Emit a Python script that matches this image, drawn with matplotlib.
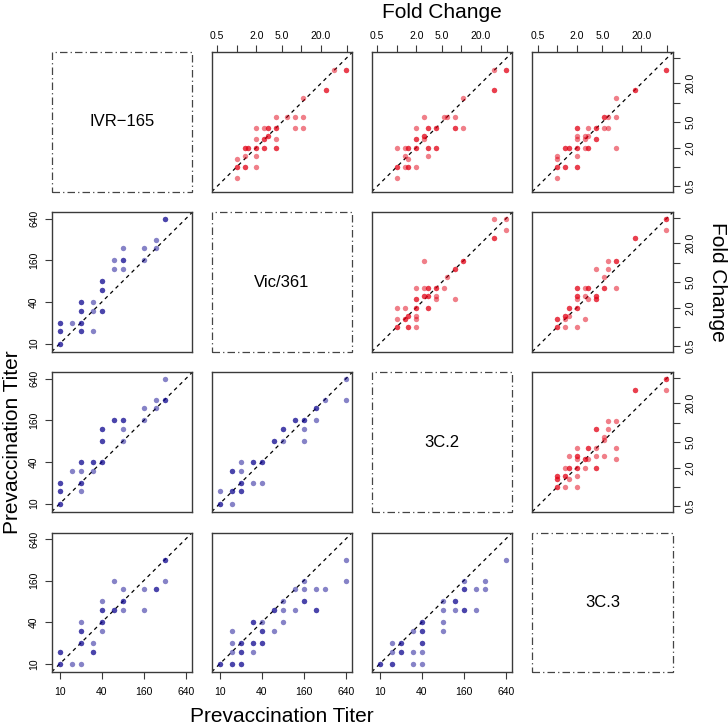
import numpy as np
import matplotlib.pyplot as plt
from matplotlib.patches import Rectangle
from matplotlib.ticker import NullLocator

plt.rcParams['font.family'] = ['Liberation Sans', 'DejaVu Sans']

# strain names on the diagonal
strains = ['IVR\u2212165', 'Vic/361', '3C.2', '3C.3']

# upper triangle: fold change, (x = column strain, y = row strain, subjects at that point)
fc_ivr_vic = [(48, 32, 2), (32, 32, 1), (24, 16, 2), (10.7, 12, 1), (4, 6, 1), (6, 6, 1),
              (8, 6, 1), (10.7, 6, 1), (2, 4, 1), (2.67, 4, 1), (3, 4, 2), (4, 4, 2),
              (8, 4, 1), (10.7, 4, 1), (3, 3, 2), (2.67, 2.67, 2), (2, 2.67, 1), (4, 2.67, 1),
              (1.33, 2, 2), (1.5, 2, 2), (2, 2, 2), (2.67, 2, 2), (4, 2, 2), (1, 1.33, 1),
              (1.33, 1.5, 1), (2, 1.5, 1), (1, 1, 2), (1.33, 1, 2), (2, 1, 1), (1, 0.67, 1)]
fc_ivr_3c2 = [(48, 32, 2), (32, 32, 1), (32, 16, 2), (10.7, 12, 1), (2.67, 6, 1), (5.33, 6, 1),
              (6, 6, 1), (8, 6, 1), (2, 4, 1), (3, 4, 2), (4, 4, 2), (8, 4, 2),
              (10.7, 4, 1), (2, 2.67, 2), (2.67, 3, 2), (2.67, 2.67, 1), (1, 2, 1), (1.33, 2, 1),
              (1.5, 2, 2), (2, 2, 2), (3, 2, 2), (4, 2, 2), (1.33, 1.5, 1), (1.5, 1.33, 1),
              (3, 1.5, 1), (1, 1, 2), (1.33, 1, 1), (1.5, 1, 2), (2, 1, 1), (1, 0.67, 1)]
fc_ivr_3c3 = [(48, 32, 2), (16, 16, 2), (8, 12, 1), (5.33, 6, 2), (6, 6, 1), (8, 6, 1),
              (2, 4, 2), (3, 4, 1), (4, 4, 2), (5.33, 4, 1), (6, 4, 1), (2, 3, 1),
              (2.67, 3, 1), (3, 3, 1), (2, 2.67, 1), (2.67, 2.67, 1), (4, 2.67, 2), (1.33, 2, 2),
              (1.5, 2, 2), (2, 2, 2), (2.67, 2, 1), (3, 2, 2), (8, 2, 1), (1, 1.5, 1),
              (1, 1.33, 1), (2, 1.5, 1), (1, 1, 2), (1.33, 1, 2), (2, 1, 2), (1, 0.67, 1)]
fc_vic_3c2 = [(32, 48, 1), (48, 48, 1), (48, 32, 1), (32, 24, 2), (2.67, 10.7, 1), (10.7, 10.7, 2),
              (8, 8, 2), (6, 6, 1), (2, 4, 1), (2.67, 4, 1), (3, 4, 2), (4, 4, 2),
              (5.33, 4, 1), (2.67, 3, 2), (3, 3, 2), (4, 3, 1), (4, 2.67, 1), (8, 2.67, 1),
              (2, 2.67, 2), (1, 2, 1), (1.33, 2, 1), (2, 2, 2), (3, 2, 2), (1, 1.33, 1),
              (1.33, 1.33, 2), (1.5, 1.5, 2), (2, 1.5, 1), (2, 1.33, 1), (1, 1, 2), (1.5, 1, 2),
              (2, 1, 1)]
fc_vic_3c3 = [(48, 48, 2), (48, 32, 1), (16, 24, 2), (6, 10.7, 1), (8, 10.7, 2), (4, 8, 1),
              (6, 8, 1), (5.33, 6, 1), (2, 4, 2), (2.67, 4, 1), (3, 4, 2), (5.33, 4, 2),
              (8, 4, 1), (2, 3, 2), (2.67, 3, 1), (3, 2.67, 1), (2, 2.67, 1), (4, 3, 2),
              (4, 2.67, 2), (1.5, 2, 2), (2, 2, 2), (1, 1.33, 2), (1.33, 1.5, 2), (1.33, 1.33, 1),
              (1.5, 1.5, 1), (2.67, 1.33, 1), (1, 1, 2), (1.33, 1, 1), (2, 1, 1)]
fc_3c2_3c3 = [(48, 48, 2), (48, 32, 1), (16, 32, 2), (6, 10.7, 1), (8, 10.7, 1), (4, 8, 2),
              (6, 8, 1), (5.33, 6, 1), (5.33, 5.33, 1), (2, 4, 1), (3, 4, 2), (4, 4, 1),
              (8, 4, 1), (1.5, 3, 1), (2, 3, 2), (2, 2.67, 1), (2.67, 2.67, 2), (3, 2.67, 1),
              (4, 3, 1), (5.33, 3, 1), (8, 2.67, 1), (1.33, 2, 1), (1.5, 2, 2), (2, 2, 2),
              (2.67, 2, 1), (4, 2, 2), (1, 1.5, 2), (1, 1.33, 2), (1.33, 1.5, 2), (1.5, 1.33, 1),
              (2, 1.5, 1), (1, 1, 2), (1.33, 1, 1), (2, 1, 1)]

# lower triangle: prevaccination titer, (x = column strain, y = row strain, subjects)
pre_vic_ivr = [(320, 640, 2), (240, 320, 1), (240, 240, 1), (160, 240, 1), (160, 160, 1), (80, 240, 1),
               (80, 160, 2), (80, 120, 1), (60, 160, 1), (60, 120, 1), (40, 80, 2), (40, 60, 2),
               (20, 40, 2), (30, 40, 1), (20, 30, 2), (30, 30, 1), (40, 30, 2), (10, 20, 2),
               (15, 20, 1), (20, 20, 2), (10, 15, 2), (20, 15, 2), (30, 15, 1), (10, 10, 2)]
pre_3c2_ivr = [(320, 640, 1), (240, 320, 1), (320, 320, 2), (160, 240, 1), (240, 240, 1), (160, 160, 1),
               (60, 160, 2), (80, 160, 2), (40, 120, 2), (80, 120, 1), (40, 80, 2), (80, 80, 1),
               (20, 40, 2), (30, 40, 2), (40, 40, 2), (15, 30, 1), (20, 30, 1), (30, 30, 1),
               (10, 20, 2), (20, 20, 2), (10, 15, 2), (20, 15, 1), (10, 10, 2)]
pre_3c2_vic = [(640, 640, 1), (640, 320, 1), (320, 320, 1), (240, 240, 2), (120, 160, 2), (160, 160, 2),
               (240, 160, 1), (80, 120, 2), (160, 120, 1), (60, 80, 2), (80, 80, 1), (160, 80, 1),
               (20, 40, 1), (30, 40, 2), (40, 40, 2), (15, 30, 2), (20, 30, 1), (20, 20, 2),
               (30, 20, 1), (40, 20, 1), (10, 15, 1), (15, 15, 2), (20, 15, 2), (10, 10, 2),
               (15, 10, 1)]
pre_3c3_ivr = [(320, 320, 2), (320, 160, 1), (240, 120, 2), (160, 120, 1), (160, 60, 1), (60, 160, 1),
               (80, 120, 1), (80, 80, 2), (80, 60, 1), (60, 60, 2), (40, 80, 1), (40, 60, 2),
               (40, 40, 2), (40, 30, 1), (20, 40, 1), (20, 30, 2), (20, 20, 2), (30, 20, 1),
               (30, 15, 2), (10, 15, 2), (10, 10, 2), (15, 10, 1), (20, 10, 1)]
pre_3c3_vic = [(640, 320, 1), (640, 160, 1), (160, 160, 1), (120, 120, 1), (160, 120, 1), (240, 120, 1),
               (320, 120, 1), (80, 80, 1), (160, 80, 2), (60, 60, 2), (80, 60, 1), (120, 60, 1),
               (240, 60, 2), (80, 40, 1), (30, 40, 2), (40, 40, 1), (40, 30, 2), (60, 30, 1),
               (15, 30, 1), (15, 20, 1), (20, 20, 2), (30, 20, 2), (40, 20, 2), (15, 15, 1),
               (20, 15, 2), (30, 15, 1), (10, 10, 2), (15, 10, 2), (20, 10, 2)]
pre_3c3_3c2 = [(640, 320, 1), (320, 160, 1), (160, 160, 1), (160, 120, 2), (240, 120, 1), (320, 120, 1),
               (80, 80, 1), (120, 80, 2), (80, 60, 1), (120, 60, 1), (160, 60, 2), (240, 60, 1),
               (80, 40, 1), (80, 30, 1), (40, 40, 2), (30, 30, 1), (40, 30, 2), (40, 20, 2),
               (20, 20, 2), (15, 20, 1), (15, 15, 1), (20, 15, 2), (30, 15, 1), (40, 15, 1),
               (10, 10, 2), (15, 10, 2), (30, 10, 1), (40, 10, 1)]

fc_ticks = [0.5, 1, 2, 5, 10, 20, 50]
fc_labels = ['0.5', '', '2.0', '5.0', '', '20.0', '']
titer_ticks = [10, 40, 160, 640]

W, H = 728, 727
fig = plt.figure(figsize=(W / 100, H / 100), dpi=100)

col_left = [51.7, 211.7, 371.7, 532.2]
row_top = [52.3, 212.3, 372.3, 532.5]
pw, ph = 140.6, 139.4

fc_lim = (0.41, 61)
titer_lim = (7.65, 795)

red = (0.89, 0.0, 0.08)
blue = (0.06, 0.03, 0.57)


def new_axes(r, c):
    return fig.add_axes([col_left[c] / W, 1 - (row_top[r] + ph) / H, pw / W, ph / H])


def scatter_panel(r, c, pts, lim, color):
    ax = new_axes(r, c)
    ax.set_xscale('log')
    ax.set_yscale('log')
    xs = np.repeat([p[0] for p in pts], [p[2] for p in pts])
    ys = np.repeat([p[1] for p in pts], [p[2] for p in pts])
    ax.plot(lim, lim, color='black', lw=0.9, ls=(0, (3, 3)), zorder=1)
    ax.scatter(xs, ys, s=15, color=color, alpha=0.5, linewidths=0, zorder=2)
    ax.set_xlim(lim)
    ax.set_ylim(lim)
    for sp in ax.spines.values():
        sp.set_color('#3a3a3a')
        sp.set_linewidth(1.0)
    ax.xaxis.set_minor_locator(NullLocator())
    ax.yaxis.set_minor_locator(NullLocator())
    ax.tick_params(which='both', bottom=False, left=False, top=False, right=False,
                   labelbottom=False, labelleft=False, labeltop=False, labelright=False,
                   length=5, width=0.8, color='#3a3a3a', labelsize=7.5)
    return ax


# diagonal
for i, name in enumerate(strains):
    ax = new_axes(i, i)
    ax.axis('off')
    ax.add_patch(Rectangle((0, 0), 1, 1, transform=ax.transAxes, fill=False,
                           ec='#444444', lw=0.9, ls=(0, (6, 2.5, 1, 2.5)), clip_on=False))
    ax.text(0.5, 0.5, name, ha='center', va='center', fontsize=12, transform=ax.transAxes)

# upper panels
upper = {(0, 1): fc_ivr_vic, (0, 2): fc_ivr_3c2, (0, 3): fc_ivr_3c3,
         (1, 2): fc_vic_3c2, (1, 3): fc_vic_3c3, (2, 3): fc_3c2_3c3}
for (r, c), pts in upper.items():
    ax = scatter_panel(r, c, pts, fc_lim, red)
    if r == 0:
        ax.set_xticks(fc_ticks)
        ax.set_xticklabels(fc_labels)
        ax.tick_params(axis='x', top=True, labeltop=True, pad=3)
    if c == 3:
        ax.set_yticks(fc_ticks)
        ax.set_yticklabels(fc_labels, rotation=90, va='center')
        ax.tick_params(axis='y', right=True, labelright=True, pad=4)

# lower panels
lower = {(1, 0): pre_vic_ivr, (2, 0): pre_3c2_ivr, (2, 1): pre_3c2_vic,
         (3, 0): pre_3c3_ivr, (3, 1): pre_3c3_vic, (3, 2): pre_3c3_3c2}
for (r, c), pts in lower.items():
    ax = scatter_panel(r, c, pts, titer_lim, blue)
    if c == 0:
        ax.set_yticks(titer_ticks)
        ax.set_yticklabels([str(t) for t in titer_ticks], rotation=90, va='center')
        ax.tick_params(axis='y', left=True, labelleft=True, pad=4)
    if r == 3:
        ax.set_xticks(titer_ticks)
        ax.set_xticklabels([str(t) for t in titer_ticks])
        ax.tick_params(axis='x', bottom=True, labelbottom=True, pad=6)

fig.text(442 / W, 1 - 13 / H, 'Fold Change', ha='center', va='center', fontsize=15)
fig.text(718 / W, 1 - 282 / H, 'Fold Change', ha='center', va='center', fontsize=15, rotation=-90)
fig.text(13 / W, 1 - 442 / H, 'Prevaccination Titer', ha='center', va='center', fontsize=15, rotation=90)
fig.text(282 / W, 1 - 716 / H, 'Prevaccination Titer', ha='center', va='center', fontsize=15)

fig.savefig('out.png', dpi=100)
